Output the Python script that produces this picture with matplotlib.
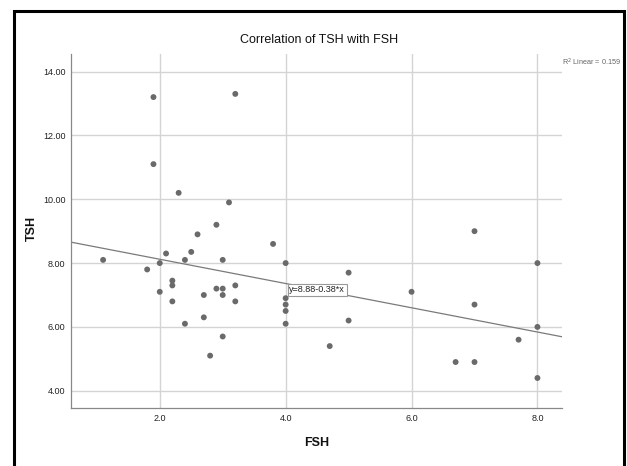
import matplotlib
matplotlib.use("Agg")
import matplotlib.pyplot as plt
from matplotlib.patches import Rectangle
import numpy as np

plt.rcParams['font.family'] = ['Liberation Sans', 'DejaVu Sans']

fsh = [1.1, 1.8, 1.9, 1.9, 2.0, 2.0, 2.1, 2.2, 2.2, 2.2, 2.3, 2.4, 2.4, 2.5, 2.6,
       2.7, 2.7, 2.8, 2.9, 2.9, 3.0, 3.0, 3.0, 3.0, 3.1, 3.2, 3.2, 3.2, 3.8,
       4.0, 4.0, 4.0, 4.0, 4.0, 4.7, 5.0, 5.0, 6.0, 6.7, 7.0, 7.0, 7.0, 7.7,
       8.0, 8.0, 8.0]
tsh = [8.1, 7.8, 13.2, 11.1, 8.0, 7.1, 8.3, 7.45, 7.3, 6.8, 10.2, 8.1, 6.1, 8.35, 8.9,
       7.0, 6.3, 5.1, 9.2, 7.2, 8.1, 7.2, 7.0, 5.7, 9.9, 13.3, 7.3, 6.8, 8.6,
       8.0, 6.9, 6.7, 6.5, 6.1, 5.4, 7.7, 6.2, 7.1, 4.9, 9.0, 6.7, 4.9, 5.6,
       8.0, 6.0, 4.4]
intercept = 8.88
slope = -0.38
r2 = 0.159
x_ticks = [2.0, 4.0, 6.0, 8.0]
y_ticks = [4.0, 6.0, 8.0, 10.0, 12.0, 14.0]

fig = plt.figure(figsize=(6.27, 4.66), dpi=100)
ax = fig.add_axes([71/627, 1-408/466, (562-71)/627, (408-54)/466])

xmin, xmax = 0.59, 8.39
ymin, ymax = 3.46, 14.55
ax.set_xlim(xmin, xmax)
ax.set_ylim(ymin, ymax)

ax.set_xticks(x_ticks)
ax.set_yticks(y_ticks)
ax.set_xticklabels([f"{v:.1f}" for v in x_ticks])
ax.set_yticklabels([f"{v:.2f}" for v in y_ticks])
ax.tick_params(length=0, labelsize=6.5, colors='#222222', pad=4)
ax.grid(True, color='#d4d4d4', linewidth=1.0)
ax.set_axisbelow(True)
for s in ['top', 'right']:
    ax.spines[s].set_visible(False)
for s in ['left', 'bottom']:
    ax.spines[s].set_color('#888888')
    ax.spines[s].set_linewidth(0.9)

ax.scatter(fsh, tsh, s=18, color='#6a6a6a', edgecolors='none', zorder=3)

xl = np.array([xmin, xmax])
ax.plot(xl, intercept + slope * xl, color='#7a7a7a', linewidth=0.9, zorder=2)

ax.text(4.06, 7.16, f"y={intercept:.2f}{slope:+.2f}*x".replace('+-', '-'),
        fontsize=6.5, color='#222222', va='center', ha='left', zorder=4,
        bbox=dict(boxstyle='square,pad=0.2', facecolor='white', edgecolor='#999999', linewidth=0.8))

fig.text(562/627, 1-62/466, f"R$^2$ Linear = {r2:.3f}", fontsize=5.2, color='#666666',
         va='center', ha='left')

fig.text(319/627, 1-40/466, "Correlation of TSH with FSH", fontsize=9, ha='center', va='center',
         color='#111111')
fig.text(317/627, 1-443/466, "FSH", fontsize=9, fontweight='bold', ha='center', va='center',
         color='#111111')
fig.text(32/627, 1-228/466, "TSH", fontsize=9, fontweight='bold', ha='center', va='center',
         rotation=90, color='#111111')

fig.patches.append(Rectangle((13.5/627, -0.05), (623.5-13.5)/627, 1.05 - 11/466,
                             transform=fig.transFigure, fill=False, edgecolor='black',
                             linewidth=2.2))

fig.savefig("out.png", dpi=100)
